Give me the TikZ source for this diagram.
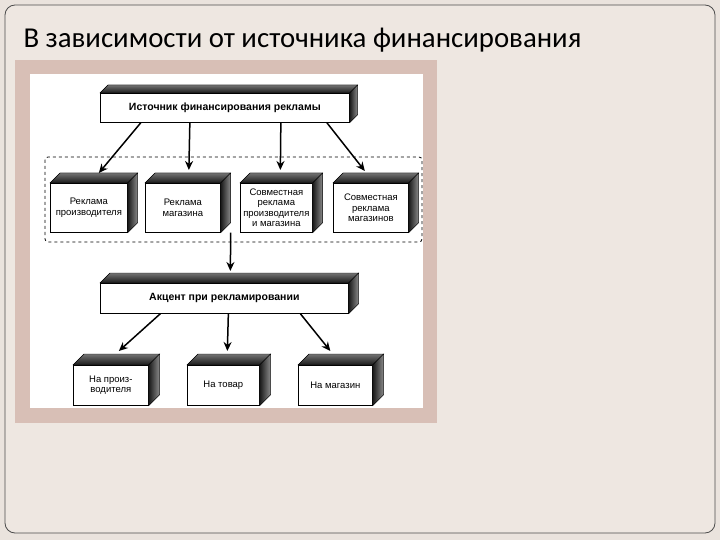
\documentclass[tikz,border=0pt]{standalone}
\usepackage{fontspec}
\setmainfont{Liberation Sans}
\newfontfamily\titlefont{Carlito}
\usetikzlibrary{arrows.meta}
\definecolor{slidebg}{HTML}{EAE3DD}
\definecolor{slidein}{HTML}{EEE7E1}
\definecolor{framec}{HTML}{D8BFB6}
\tikzset{
  front/.style={draw=black, line width=0.7pt, fill=white, inner sep=1pt, align=center, font=\fontsize{9.5}{10.5}\selectfont},
  topface/.style={draw=black, line width=0.4pt, top color=black!55, bottom color=black!90},
  sideface/.style={draw=black, line width=0.4pt, left color=black!90, right color=black!45},
  arr/.style={-{Stealth[length=9pt,width=8pt]}, line width=1.5pt},
}
% \cube{name}{x1}{y1}{x2}{y2}{depth}{text}
\newcommand{\cube}[7]{%
  \node[front, minimum width={#4-#2}, minimum height={#5-#3}, anchor=north west] (#1) at (#2,#3) {#7};
  \fill[topface] (#1.north west) -- ++(#6,-#6) -- ([xshift=#6 pt, yshift=#6 pt]#1.north east) -- (#1.north east) -- cycle;
  \fill[sideface] (#1.north east) -- ++(#6,-#6) -- ([xshift=#6 pt, yshift=#6 pt]#1.south east) -- (#1.south east) -- cycle;
}
\begin{document}
\begin{tikzpicture}[x=1pt,y=-1pt]
\useasboundingbox (0,0) rectangle (720,540);
\fill[slidebg] (0,0) rectangle (720,540);
\draw[black!70, line width=0.8pt, fill=slidein, rounded corners=10pt] (5,5) rectangle (715,533);
\node[anchor=west, font=\titlefont\fontsize{28.8}{32}\selectfont] (title) at (20,40) {В зависимости от источника финансирования};
\fill[framec] (15,60) rectangle (437,423);
\fill[white] (30,74) rectangle (423,408);
\draw[dashed, line width=0.8pt, rounded corners=3pt] (45,157) rectangle (422,242);
\cube{src}{100}{93}{349}{122}{8}{\bfseries\fontsize{10.5}{12}\selectfont Источник финансирования рекламы}
\cube{b1}{50}{183}{127}{232}{10}{Реклама\\производителя}
\cube{b2}{145}{183}{220}{232}{10}{Реклама\\магазина}
\cube{b3}{240}{183}{312}{232}{10}{Совместная\\реклама\\производителя\\и магазина}
\cube{b4}{333}{183}{408}{232}{10}{Совместная\\реклама\\магазинов}
\cube{acc}{100}{283}{348}{313}{10}{\bfseries\fontsize{10.5}{12}\selectfont Акцент при рекламировании}
\cube{c1}{73}{365}{148}{405}{11}{На произ-\\водителя}
\cube{c2}{187}{365}{259}{405}{11}{На товар}
\cube{c3}{298}{365}{372}{405}{11}{На магазин}
\draw[arr] ([xshift=-84pt]src.south) -- ([xshift=10pt,yshift=10pt]b1.north);
\draw[arr] ([xshift=-35pt]src.south) -- ([xshift=6pt,yshift=13pt]b2.north);
\draw[arr] ([xshift=56pt]src.south) -- ([xshift=4pt,yshift=13pt]b3.north);
\draw[arr] ([xshift=102pt]src.south) -- ([xshift=-6pt,yshift=12pt]b4.north);
\draw[arr] ([xshift=10pt]b2.south east) -- ([xshift=6pt,yshift=12pt]acc.north);
\draw[arr] ([xshift=-64pt]acc.south) -- ([xshift=8pt,yshift=14pt]c1.north);
\draw[arr] ([xshift=4pt]acc.south) -- ([xshift=4pt,yshift=14pt]c2.north);
\draw[arr] ([xshift=76pt]acc.south) -- ([xshift=-5pt,yshift=14pt]c3.north);
\end{tikzpicture}
\end{document}
